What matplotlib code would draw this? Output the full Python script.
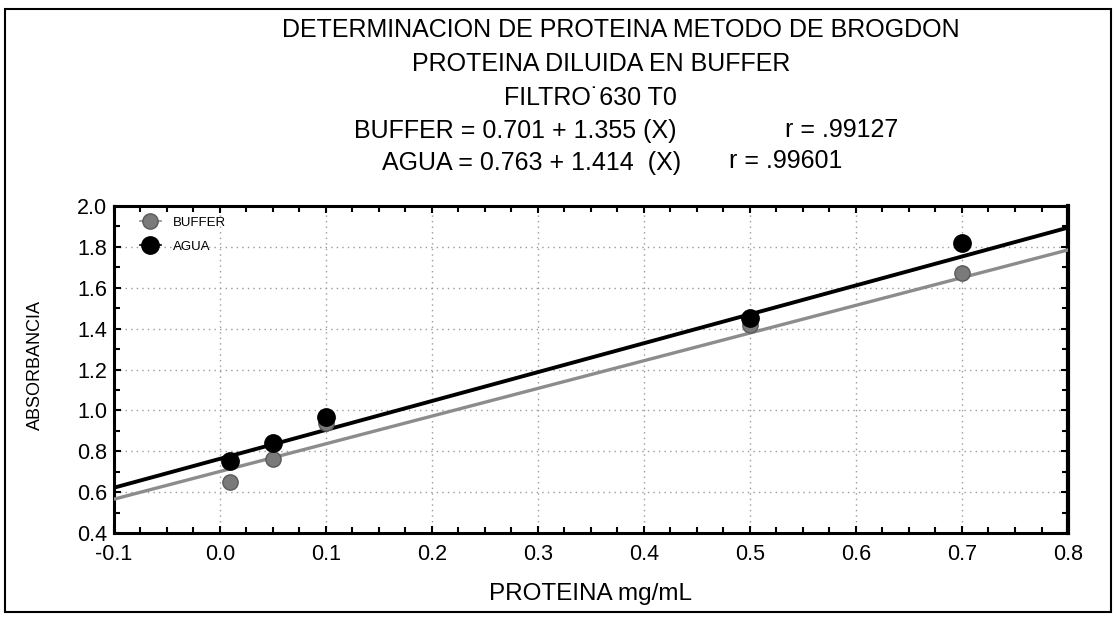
import matplotlib.pyplot as plt
import numpy as np
from matplotlib.patches import Rectangle
from matplotlib.ticker import MultipleLocator

plt.rcParams["font.family"] = ["Liberation Sans", "DejaVu Sans"]

# data
proteina = [0.01, 0.05, 0.10, 0.50, 0.70]
buffer_abs = [0.65, 0.76, 0.94, 1.42, 1.67]
agua_abs = [0.75, 0.84, 0.97, 1.45, 1.82]

# regression coefficients printed in the header
buffer_fit = (0.701, 1.355)
agua_fit = (0.763, 1.414)
x_line = np.array([-0.1, 0.8])

fig = plt.figure(figsize=(11.16, 6.18), dpi=100)
ax = fig.add_axes([0.102, 0.1375, 0.855, 0.5292])

# outer frame around the whole chart
fig.patches.append(Rectangle((0.0045, 0.0097), 0.991, 0.975, transform=fig.transFigure,
                             fill=False, edgecolor="black", linewidth=1.5))

ax.plot(x_line, buffer_fit[0] + buffer_fit[1] * x_line, color="#8c8c8c", lw=2.4, zorder=3)
ax.plot(x_line, agua_fit[0] + agua_fit[1] * x_line, color="black", lw=2.8, zorder=3)
ax.plot(proteina, buffer_abs, "o-", color="#8c8c8c", lw=0, ms=11, mfc="#7a7a7a",
        mec="#5a5a5a", zorder=4, label="BUFFER")
ax.plot(proteina, agua_abs, "o-", color="black", lw=0, ms=12.5, zorder=5, label="AGUA")

ax.set_xlim(-0.1, 0.8)
ax.set_ylim(0.4, 2.0)
ax.xaxis.set_major_locator(MultipleLocator(0.1))
ax.xaxis.set_minor_locator(MultipleLocator(0.025))
ax.yaxis.set_major_locator(MultipleLocator(0.2))
ax.yaxis.set_minor_locator(MultipleLocator(0.1))
ax.xaxis.set_major_formatter(lambda v, p: f"{v:.1f}")
ax.yaxis.set_major_formatter(lambda v, p: f"{v:.1f}")
ax.tick_params(which="both", direction="in", top=True, right=True, width=1.5, labelsize=15.5)
ax.tick_params(which="major", length=5)
ax.tick_params(which="minor", length=4)
ax.tick_params(axis="x", pad=8)
ax.tick_params(axis="y", pad=5)
ax.grid(True, which="major", color="#9a9a9a", linestyle=(0, (1, 3)), lw=1)
for side in ["left", "bottom", "top"]:
    ax.spines[side].set_linewidth(2.2)
ax.spines["right"].set_linewidth(3)

ax.set_xlabel("PROTEINA mg/mL", fontsize=17.5, labelpad=13)
fig.text(0.032, 0.409, "ABSORBANCIA", rotation=90, ha="center", va="center", fontsize=13)

leg = ax.legend(loc="upper left", bbox_to_anchor=(0.016, 1.0), frameon=False, fontsize=9.5,
                handlelength=1.6, handletextpad=0.9, borderaxespad=0.2, labelspacing=0.9,
                borderpad=0.6)
for h in leg.legend_handles:
    h.set_linewidth(1.2)

fs = 18
fig.text(0.556, 0.951, "DETERMINACION DE PROTEINA METODO DE BROGDON", ha="center",
         va="center", fontsize=fs)
fig.text(0.539, 0.896, "PROTEINA DILUIDA EN BUFFER", ha="center", va="center", fontsize=fs)
fig.text(0.529, 0.842, "FILTRO\u02d9630 T0", ha="center", va="center", fontsize=fs)
fig.text(0.4615, 0.788, "BUFFER = 0.701 + 1.355 (X)", ha="center", va="center", fontsize=fs)
fig.text(0.7545, 0.790, "r = .99127", ha="center", va="center", fontsize=fs)
fig.text(0.476, 0.737, "AGUA = 0.763 + 1.414  (X)", ha="center", va="center", fontsize=fs)
fig.text(0.704, 0.739, "r = .99601", ha="center", va="center", fontsize=fs)

fig.savefig("out.png")
